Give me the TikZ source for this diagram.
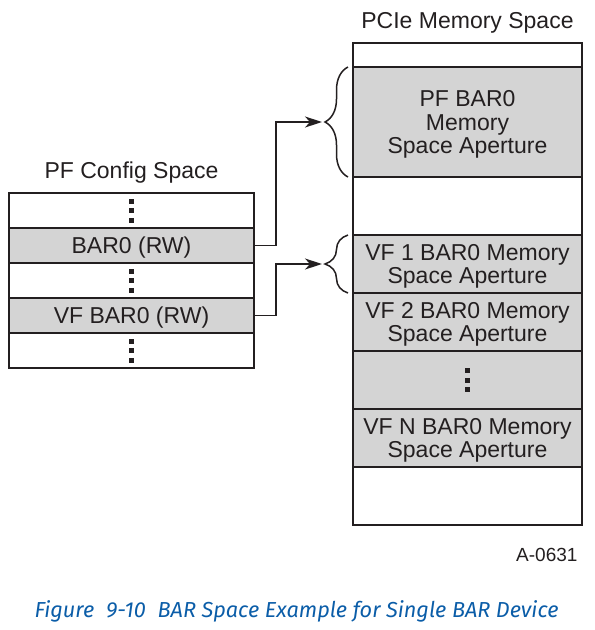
\documentclass[tikz,border=0pt]{standalone}
\usepackage{fontspec}
\setmainfont{Liberation Sans}
\newfontfamily\captionfont{Fira Sans}
\usetikzlibrary{arrows.meta,decorations.pathreplacing,positioning}
\definecolor{bargray}{HTML}{D4D4D4}
\definecolor{capblue}{HTML}{0B5DA8}
\definecolor{inkgray}{HTML}{231F20}
\begin{document}
\begin{tikzpicture}
    [
      x=1pt, y=-1pt,
      every node/.style={inkgray, font=\fontsize{23}{23.5}\selectfont},
      spacetitle/.style={text depth=0pt},
      cfgrow/.style={draw=inkgray, line width=1.5pt, minimum width=245pt,
        minimum height=35pt, inner sep=0pt, outer sep=0pt, text depth=0pt,
        anchor=north},
      memrow/.style={draw=inkgray, line width=1.5pt, minimum width=229pt,
        inner sep=0pt, outer sep=0pt, text depth=0pt, anchor=north,
        align=center},
      bar/.style={fill=bargray},
      link/.style={draw=inkgray, line width=1.5pt,
        -{Stealth[length=17pt,width=11pt,inset=5pt]}},
      curly/.style={draw=inkgray, line width=1.5pt, decorate,
        decoration={brace, amplitude=23pt, aspect=0.5}},
      dot/.style={fill=inkgray, minimum size=5pt, inner sep=0pt},
    ]
    \useasboundingbox (0,0) rectangle (595,630);

    % PF config space
    \node [spacetitle] (cfgtitle) at (131.5,170) {PF Config Space};
    \node [cfgrow] (cfg1) at (131.5,193) {};
    \node [cfgrow, bar, below=0pt of cfg1] (bar0) {BAR0 (RW)};
    \node [cfgrow, below=0pt of bar0] (cfg2) {};
    \node [cfgrow, bar, below=0pt of cfg2] (vfbar0) {VF BAR0 (RW)};
    \node [cfgrow, below=0pt of vfbar0] (cfg3) {};
    \foreach \r in {cfg1,cfg2,cfg3}
      \foreach \d in {-9.5,0,9.5}
        \node [dot] at ([yshift=\d]\r.center) {};

    % PCIe memory space
    \node [spacetitle] (memtitle) at (467.5,20) {PCIe Memory Space};
    \node [memrow, minimum height=24pt] (mem1) at (467.5,43) {};
    \node [memrow, bar, minimum height=110pt, below=0pt of mem1] (pfap)
      {PF BAR0\\Memory\\Space Aperture};
    \node [memrow, minimum height=58pt, below=0pt of pfap] (mem2) {};
    \node [memrow, bar, minimum height=58pt, below=0pt of mem2] (vf1ap)
      {VF 1 BAR0 Memory\\Space Aperture};
    \node [memrow, bar, minimum height=58pt, below=0pt of vf1ap] (vf2ap)
      {VF 2 BAR0 Memory\\Space Aperture};
    \node [memrow, bar, minimum height=58pt, below=0pt of vf2ap] (vfdots) {};
    \node [memrow, bar, minimum height=58pt, below=0pt of vfdots] (vfnap)
      {VF N BAR0 Memory\\Space Aperture};
    \node [memrow, minimum height=58pt, below=0pt of vfnap] (mem3) {};
    \foreach \d in {-9.5,0,9.5}
      \node [dot] at ([yshift=\d]vfdots.center) {};

    % braces
    \draw [curly] ([xshift=-5pt]pfap.south west) -- ([xshift=-5pt]pfap.north west);
    \draw [curly] ([xshift=-5pt]vf1ap.south west) -- ([xshift=-5pt]vf1ap.north west);
    \coordinate (pftip) at ([xshift=-31pt]pfap.west);
    \coordinate (vftip) at ([xshift=-31pt]vf1ap.west);

    % connectors
    \draw [link] (bar0.east) -- ++(22,0) |- (pftip);
    \draw [link] (vfbar0.east) -- ++(22,0) |- (vftip);

    \node [anchor=base east, font=\fontsize{19}{19}\selectfont] (figid) at (581,561) {A-0631};
    \node [anchor=base west, text=capblue, font=\captionfont\itshape\fontsize{21.7}{21.7}\selectfont]
      (caption) at (31,617) {Figure\hspace{0.55em}9-10\hspace{0.55em}BAR Space Example for Single BAR Device};
  \end{tikzpicture}
\end{document}
